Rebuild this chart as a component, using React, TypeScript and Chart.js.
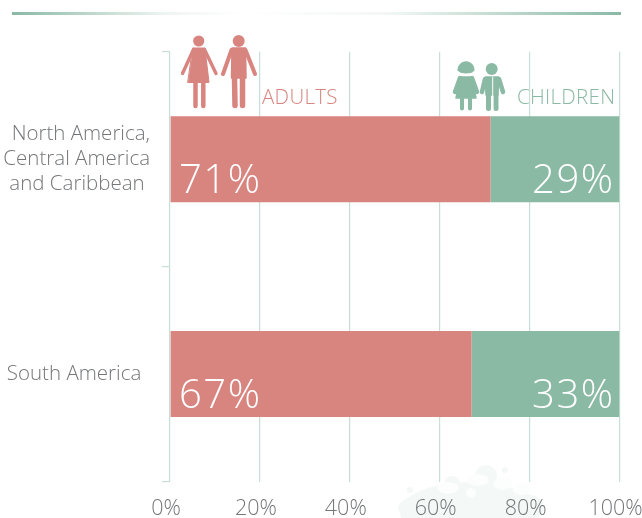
import React, { useEffect, useRef } from "react";
import { Chart, registerables } from "chart.js";

Chart.register(...registerables);

const regions = [
  ["North America,", "Central America", "and Caribbean "],
  "South America \u2009",
];
const adultShares = [71.3, 67.1];
const childShares = [28.7, 32.9];
const seriesNames = ["ADULTS", "CHILDREN"];
const percentTicks = [0, 20, 40, 60, 80, 100];

const ROSE = "#d88580";
const SAGE = "#8ab9a4";
const GRID = "#c6e0d8";
const GREY = "#747678";
const FONT = '"Open Sans", sans-serif';

const labelPlugin = {
  id: "shareLabels",
  afterDatasetsDraw(chart: any) {
    const { ctx, scales } = chart;
    ctx.save();
    ctx.fillStyle = "#ffffff";
    ctx.font = `300 40px ${FONT}`;
    ctx.letterSpacing = "1.5px";
    ctx.textBaseline = "alphabetic";
    adultShares.forEach((v, i) => {
      const y = scales.y.getPixelForValue(i) + 34;
      ctx.textAlign = "left";
      ctx.fillText(`${Math.round(v)}%`, scales.x.getPixelForValue(0) + 9, y);
      ctx.textAlign = "right";
      ctx.fillText(`${Math.round(childShares[i])}%`, scales.x.getPixelForValue(100) - 5, y);
    });
    ctx.font = `300 20.5px ${FONT}`;
    ctx.letterSpacing = "0.3px";
    ctx.textAlign = "left";
    ctx.fillStyle = ROSE;
    ctx.fillText(seriesNames[0], 262, 104);
    ctx.fillStyle = SAGE;
    ctx.fillText(seriesNames[1], 517, 104);
    ctx.restore();
  },
};

function Backdrop() {
  return (
    <svg width={642} height={518} style={{ position: "absolute", left: 0, top: 0 }}>
      <defs>
        <linearGradient id="rule" x1="0" x2="1" y1="0" y2="0">
          <stop offset="0" stopColor="#8ab9a4" />
          <stop offset="0.25" stopColor="#eef4f1" />
          <stop offset="0.38" stopColor="#ffffff" />
          <stop offset="0.62" stopColor="#f2f7f5" />
          <stop offset="1" stopColor="#8ab9a4" />
        </linearGradient>
      </defs>
      <rect x={12} y={12} width={609} height={3} fill="url(#rule)" />
      <g fill="#f4f8f6">
        <ellipse cx={470} cy={512} rx={70} ry={30} />
        <ellipse cx={420} cy={508} rx={22} ry={12} />
        <ellipse cx={520} cy={507} rx={24} ry={14} />
        <circle cx={486} cy={476} r={11} />
        <circle cx={452} cy={484} r={8} />
        <circle cx={410} cy={490} r={3} />
        <circle cx={505} cy={470} r={3} />
      </g>
      <g fill="#fcfdfd">
        <ellipse cx={448} cy={488} rx={11} ry={6} />
        <ellipse cx={478} cy={480} rx={11} ry={6} />
        <ellipse cx={503} cy={484} rx={10} ry={6} />
        <ellipse cx={522} cy={489} rx={9} ry={6} />
        <circle cx={471} cy={493} r={5} />
      </g>
    </svg>
  );
}

function Figures() {
  return (
    <svg width={642} height={518} style={{ position: "absolute", left: 0, top: 0 }}>
      <g fill={ROSE} stroke={ROSE} strokeLinecap="round" strokeLinejoin="round">
        <circle cx={198.7} cy={41} r={5.6} stroke="none" />
        <path d="M193 48 L205 48 L209 82.5 L188 82.5 Z" strokeWidth={1} />
        <path d="M193.5 49.5 L182.5 73.5 M204.5 49.5 L216 73.5" fill="none" strokeWidth={3.4} />
        <path d="M195.5 83 L195.5 106 M203.3 83 L203.3 106" fill="none" strokeWidth={4.5} />
        <circle cx={238.7} cy={41} r={6} stroke="none" />
        <path d="M232 48 L245.5 48 L246 78 L231.5 78 Z" strokeWidth={1.5} />
        <path d="M231.5 50 L223 74 M245.5 50 L255 74" fill="none" strokeWidth={4} />
        <path d="M234.5 78 L235 105.5 M242.5 78 L242.5 105.5" fill="none" strokeWidth={5.5} />
      </g>
      <g fill={SAGE} stroke={SAGE} strokeLinecap="round" strokeLinejoin="round">
        <path d="M458 70 C458 59 474 59 474 70 C474 74 458 74 458 70 Z" strokeWidth={1} />
        <path d="M461 77 L471 77 L476 98 L456 98 Z" strokeWidth={1.5} />
        <path d="M460 78 L455 92 M472 78 L477 92" fill="none" strokeWidth={4.5} />
        <path d="M462 98 L462 108.5 M470 98 L470 108.5" fill="none" strokeWidth={4} />
        <circle cx={491.7} cy={69} r={6} stroke="none" />
        <path d="M485.5 77 L498.5 77 L498 95 L486 95 Z" strokeWidth={1.5} />
        <path d="M485 79 L482 92 M499 79 L503 92" fill="none" strokeWidth={4.5} />
        <path d="M488.5 95 L488.5 108.5 M496 95 L496 108.5" fill="none" strokeWidth={5} />
        <path d="M492.7 77 L492.7 110" fill="none" stroke="#ffffff" strokeWidth={1} />
      </g>
    </svg>
  );
}

export default function App() {
  const ref = useRef<HTMLCanvasElement>(null);

  useEffect(() => {
    document.body.style.margin = "0";
    const chart = new Chart(ref.current!, {
      type: "bar",
      data: {
        labels: regions as any,
        datasets: [
          { label: seriesNames[0], data: adultShares, backgroundColor: ROSE },
          { label: seriesNames[1], data: childShares, backgroundColor: SAGE },
        ],
      },
      options: {
        indexAxis: "y",
        responsive: false,
        animation: false,
        layout: { padding: { top: 51.7, right: 22.5, left: 0, bottom: 0 } },
        datasets: { bar: { barPercentage: 0.4, categoryPercentage: 1 } },
        plugins: { legend: { display: false }, tooltip: { enabled: false } },
        scales: {
          x: {
            stacked: true,
            min: 0,
            max: 100,
            afterBuildTicks: (s: any) => {
              s.ticks = percentTicks.map((value) => ({ value }));
            },
            afterFit: (s: any) => {
              s.height = 36.5;
              s.paddingLeft = 0;
              s.paddingRight = 0;
            },
            grid: { color: GRID, lineWidth: 1.2, drawTicks: false },
            border: { display: false },
            ticks: {
              padding: 14,
              labelOffset: -4,
              maxRotation: 0,
              autoSkip: false,
              color: GREY,
              font: { family: FONT, size: 21.5, weight: "300" },
              callback: (v: any) => `${v}%`,
            },
          },
          y: {
            stacked: true,
            afterFit: (s: any) => {
              s.width = 170;
              s.paddingTop = 0;
              s.paddingBottom = 0;
            },
            grid: { color: GRID, lineWidth: 1.2, offset: true, drawOnChartArea: false, tickLength: 8 },
            border: { display: false },
            ticks: {
              padding: 12,
              autoSkip: false,
              color: GREY,
              font: { family: FONT, size: 20.5, weight: "300", lineHeight: 1.24 },
            },
          },
        },
      },
      plugins: [labelPlugin],
    } as any);
    return () => chart.destroy();
  }, []);

  return (
    <div style={{ position: "relative", width: 642, height: 518, overflow: "hidden" }}>
      <Backdrop />
      <canvas ref={ref} width={642} height={518} style={{ position: "absolute", left: 0, top: 0 }} />
      <Figures />
    </div>
  );
}
